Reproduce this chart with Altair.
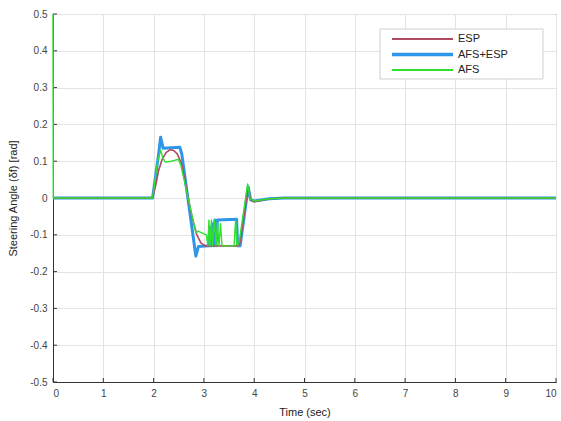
import altair as alt
import pandas as pd

# Steering angle traces (time in s, angle in rad)
esp_t = [0, 1.98, 2.05, 2.10, 2.17, 2.25, 2.33, 2.40, 2.47, 2.55, 2.62, 2.70, 2.78, 2.86, 2.94,
         3.02, 3.30, 3.50, 3.68, 3.72, 3.88, 3.93, 4.00, 4.30, 4.60, 10]
esp_v = [0, 0, 0.04, 0.075, 0.105, 0.124, 0.131, 0.129, 0.12, 0.095, 0.05, -0.01, -0.06, -0.10, -0.122,
         -0.13, -0.13, -0.13, -0.13, -0.12, 0.03, -0.005, -0.01, -0.002, 0, 0]

afs_esp_t = [0, 1.98, 2.10, 2.14, 2.19, 2.52, 2.56, 2.84, 2.89, 3.10, 3.12, 3.14, 3.17, 3.19, 3.22,
             3.24, 3.27, 3.65, 3.67, 3.72, 3.88, 3.93, 4.00, 4.30, 4.60, 10]
afs_esp_v = [0, 0, 0.12, 0.165, 0.135, 0.138, 0.12, -0.158, -0.132, -0.13, -0.08, -0.13, -0.07, -0.13, -0.06,
             -0.13, -0.06, -0.058, -0.13, -0.13, 0.03, -0.005, -0.008, -0.002, 0, 0]

afs_t = [0, 0.005, 1.98, 2.08, 2.14, 2.18, 2.23, 2.35, 2.49, 2.54, 2.84, 2.88, 3.05, 3.08, 3.10,
         3.12, 3.15, 3.17, 3.21, 3.24, 3.27, 3.30, 3.33, 3.36, 3.60, 3.63, 3.66, 3.70, 3.87,
         3.92, 4.00, 4.30, 4.60, 10]
afs_v = [0.5, 0, 0, 0.10, 0.13, 0.11, 0.098, 0.10, 0.105, 0.09, -0.095, -0.09, -0.10, -0.13, -0.06,
         -0.13, -0.06, -0.13, -0.06, -0.13, -0.065, -0.13, -0.07, -0.13, -0.13, -0.06, -0.13, -0.12, 0.038,
         -0.003, -0.008, -0.002, 0, 0]

x_ticks = list(range(0, 11))
y_ticks = [round(-0.5 + 0.1 * i, 1) for i in range(11)]

series_names = ["ESP", "AFS+ESP", "AFS"]
series_colors = ["#b04a62", "#2f95e8", "#2fe02f"]
series_widths = {"ESP": 1.6, "AFS+ESP": 3.0, "AFS": 1.4}

W, H = 503, 368

color = alt.Color(
    "series:N",
    scale=alt.Scale(domain=series_names, range=series_colors),
    legend=None,
)

xscale = alt.Scale(domain=[0, 10], nice=False, zero=False)
yscale = alt.Scale(domain=[-0.5, 0.5], nice=False, zero=False)

x = alt.X(
    "t:Q", title="Time (sec)", scale=xscale,
    axis=alt.Axis(values=x_ticks, format="d", ticks=False, labelPadding=6, titlePadding=8,
                  labelOverlap=False),
)
y = alt.Y(
    "v:Q", title="Steering Angle (δf) [rad]", scale=yscale,
    axis=alt.Axis(
        values=y_ticks,
        labelExpr="datum.value == 0 ? '0' : (datum.value < 0 ? '-' : '') + format(abs(datum.value), '.1f')",
        ticks=False, labelPadding=6, titleX=-35, labelOverlap=False,
    ),
)


def trace(name, t, v):
    df = pd.DataFrame({"t": t, "v": v, "series": name})
    return alt.Chart(df).mark_line(
        clip=False, strokeJoin="round", strokeWidth=series_widths[name]
    ).encode(x=x, y=y, color=color)


# inward-pointing tick marks along the bottom and left edges
xtick_marks = alt.Chart(pd.DataFrame({"t": x_ticks})).mark_rule(color="#333333").encode(
    x=x, y=alt.value(H), y2=alt.value(H - 4)
)
ytick_marks = alt.Chart(pd.DataFrame({"v": y_ticks})).mark_rule(color="#333333").encode(
    y=y, x=alt.value(0), x2=alt.value(4)
)

# legend box in the upper right corner
box_left, box_top, box_right, box_bottom = 327, 15, 490, 65
row_y = [25, 40.5, 56]
legend_layers = [
    alt.Chart(pd.DataFrame({"series": ["box"]})).mark_rect(
        fill="white", stroke="#cfcfcf", strokeWidth=1
    ).encode(
        x=alt.value(box_left), x2=alt.value(box_right),
        y=alt.value(box_top), y2=alt.value(box_bottom),
    )
]
for name, ry in zip(series_names, row_y):
    one = pd.DataFrame({"series": [name]})
    legend_layers.append(
        alt.Chart(one).mark_rule(strokeWidth=series_widths[name] + 0.4).encode(
            x=alt.value(339), x2=alt.value(400), y=alt.value(ry), color=color
        )
    )
    legend_layers.append(
        alt.Chart(one).mark_text(
            align="left", baseline="middle", font="Liberation Sans", fontSize=11, color="#222222"
        ).encode(x=alt.value(405), y=alt.value(ry), text="series:N")
    )

chart = alt.layer(
    xtick_marks,
    ytick_marks,
    trace("AFS+ESP", afs_esp_t, afs_esp_v),
    trace("ESP", esp_t, esp_v),
    trace("AFS", afs_t, afs_v),
    *legend_layers,
).properties(
    width=W, height=H,
    autosize=alt.AutoSizeParams(type="none"),
    padding={"left": 53, "top": 14, "right": 5, "bottom": 39},
).configure_view(
    stroke="#333333", strokeWidth=1
).configure_axis(
    domainColor="#333333", gridColor="#e3e3e3",
    labelFont="Liberation Sans", labelFontSize=10, labelColor="#444444",
    titleFont="Liberation Sans", titleFontSize=11, titleFontWeight="normal", titleColor="#222222",
)

chart.save("out.html", embed_options={"renderer": "svg", "actions": False})
